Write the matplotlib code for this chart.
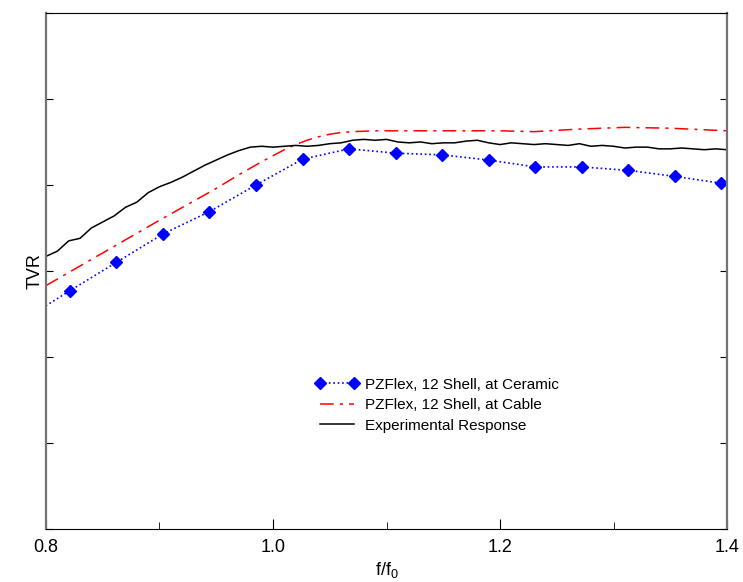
import matplotlib.pyplot as plt
from matplotlib.ticker import MultipleLocator, NullFormatter

plt.rcParams['font.family'] = ['Liberation Sans', 'DejaVu Sans']

# PZFlex, 12 Shell, at Ceramic (first point lies just left of the plot)
f_ceramic = [0.780, 0.821, 0.862, 0.903, 0.944, 0.985, 1.026, 1.067, 1.108,
             1.149, 1.190, 1.231, 1.272, 1.313, 1.354, 1.395]
tvr_ceramic = [24.3, 27.7, 31.0, 34.3, 36.9, 40.0, 43.0, 44.2, 43.7,
               43.5, 42.9, 42.1, 42.1, 41.7, 41.0, 40.2]

# PZFlex, 12 Shell, at Cable
f_cable = [0.80, 0.85, 0.90, 0.95, 0.97, 0.99, 1.00, 1.01, 1.02, 1.03, 1.04,
           1.05, 1.06, 1.07, 1.09, 1.14, 1.20, 1.23, 1.27, 1.31, 1.35, 1.40]
tvr_cable = [28.3, 32.1, 35.9, 39.6, 41.2, 42.7, 43.4, 44.1, 44.7, 45.2, 45.6,
             45.9, 46.1, 46.2, 46.3, 46.3, 46.3, 46.2, 46.5, 46.7, 46.6, 46.3]

# Experimental Response
f_exp = [0.80, 0.81, 0.82, 0.83, 0.84, 0.85, 0.86, 0.87, 0.88, 0.89,
         0.90, 0.91, 0.92, 0.93, 0.94, 0.95, 0.96, 0.97, 0.98, 0.99,
         1.00, 1.01, 1.02, 1.03, 1.04, 1.05, 1.06, 1.07, 1.08, 1.09,
         1.10, 1.11, 1.12, 1.13, 1.14, 1.15, 1.16, 1.17, 1.18, 1.19,
         1.20, 1.21, 1.22, 1.23, 1.24, 1.25, 1.26, 1.27, 1.28, 1.29,
         1.30, 1.31, 1.32, 1.33, 1.34, 1.35, 1.36, 1.37, 1.38, 1.39, 1.40]
tvr_exp = [31.7, 32.3, 33.5, 33.8, 35.0, 35.7, 36.4, 37.4, 38.0, 39.1,
           39.8, 40.3, 40.9, 41.6, 42.3, 42.9, 43.5, 44.0, 44.4, 44.5,
           44.4, 44.5, 44.6, 44.5, 44.6, 44.8, 44.9, 45.2, 45.3, 45.2,
           45.3, 45.0, 44.9, 45.0, 44.8, 44.9, 44.9, 45.1, 45.2, 44.9,
           44.7, 44.9, 44.8, 44.7, 44.8, 44.7, 44.6, 44.8, 44.5, 44.6,
           44.5, 44.3, 44.4, 44.4, 44.2, 44.2, 44.3, 44.2, 44.1, 44.2, 44.1]

fig = plt.figure(figsize=(7.43, 5.82), dpi=100)
ax = fig.add_axes([0.0619, 0.0911, 0.9166, 0.8866])

ax.plot(f_ceramic, tvr_ceramic, color='#0000ff', linestyle=':', linewidth=1.2,
        marker='D', markersize=6.5, label='PZFlex, 12 Shell, at Ceramic')
ax.plot(f_cable, tvr_cable, color='#ff0000', linewidth=1.1,
        dashes=(9, 4, 2, 4), label='PZFlex, 12 Shell, at Cable')
ax.plot(f_exp, tvr_exp, color='black', linewidth=1.1,
        label='Experimental Response')

ax.set_xlim(0.8, 1.4)
ax.set_ylim(0, 60)
ax.xaxis.set_major_locator(MultipleLocator(0.2))
ax.xaxis.set_minor_locator(MultipleLocator(0.1))
ax.xaxis.set_major_formatter(plt.FormatStrFormatter('%.1f'))
ax.yaxis.set_major_locator(MultipleLocator(10))
ax.yaxis.set_major_formatter(NullFormatter())
ax.tick_params(axis='x', which='major', direction='in', length=7,
               labelsize=13, pad=7, top=False)
ax.tick_params(axis='x', which='minor', direction='in', length=5, top=False)
ax.tick_params(axis='y', direction='in', length=5, left=True, right=True)

for side in ['left', 'right']:
    ax.spines[side].set_color('0.45')
    ax.spines[side].set_linewidth(1.6)

ax.set_xlabel(r'f/f$_\mathregular{0}$', fontsize=13, labelpad=3)
ax.set_ylabel('TVR', fontsize=13, labelpad=-1.5)

ax.legend(loc='upper left', bbox_to_anchor=(0.395, 0.293), frameon=False,
          fontsize=11, numpoints=2, handlelength=2.85, handletextpad=0.42,
          borderpad=0, borderaxespad=0, labelspacing=0.42)

fig.savefig('out.png', dpi=100)
